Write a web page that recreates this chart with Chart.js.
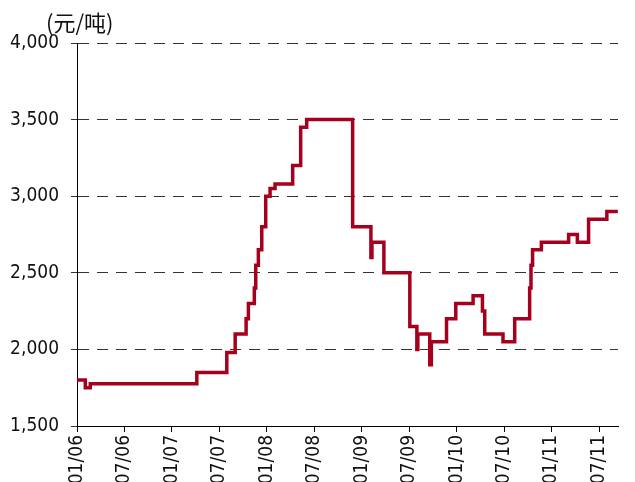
<!DOCTYPE html>
<html>
<head>
<meta charset="utf-8">
<script src="https://cdn.jsdelivr.net/npm/chart.js@4/dist/chart.umd.min.js"></script>
<style>
  html, body { margin: 0; padding: 0; background: #fff; }
  #wrap { width: 635px; height: 482px; }
</style>
</head>
<body>
<div id="wrap"><canvas id="priceChart"></canvas></div>
<script>
// mois écoulés depuis janvier 2006 (début de chaque palier)
const months = [0, 1.05, 1.68, 15.15, 18.94, 20.0, 21.38, 21.67, 22.42, 22.6, 22.93, 23.36, 23.86, 24.41, 25.04,
  27.27, 28.28, 29.04, 34.85, 37.16, 37.29, 38.8, 42.08, 42.97, 43.09, 44.6, 44.8, 46.72, 47.89,
  50.08, 51.26, 51.55, 53.86, 55.34, 57.23, 57.4, 57.6, 58.71, 62.16, 63.26, 64.68, 66.99, 68.38];
// prix (元/吨)
const prices = [1800, 1750, 1775, 1850, 1980, 2100, 2200, 2300, 2400, 2550, 2650, 2800, 3000, 3050, 3080,
  3200, 3450, 3500, 2800, 2600, 2700, 2500, 2150, 2000, 2100, 1900, 2050, 2200, 2300,
  2350, 2250, 2100, 2050, 2200, 2400, 2550, 2650, 2700, 2750, 2700, 2850, 2900, 2900];
// étiquettes de l'axe x, une tous les 6 mois
const tickLabels = ['01/06', '07/06', '01/07', '07/07', '01/08', '07/08', '01/09', '07/09', '01/10', '07/10', '01/11', '07/11'];
const unitLabel = '(元/吨)';

const points = months.map((m, i) => ({ x: m, y: prices[i] }));
const axisFont = { family: "'Liberation Sans Narrow', 'DejaVu Sans Condensed', sans-serif", size: 19 };

// titre d'unité en haut à gauche
const unitPlugin = {
    id: 'unitPlugin',
    afterDraw(chart) {
        const ctx = chart.ctx;
        ctx.save();
        ctx.font = "22px 'Noto Sans CJK SC'";
        ctx.fillStyle = '#111';
        ctx.textBaseline = 'alphabetic';
        ctx.fillText(unitLabel, 46, 31);
        ctx.restore();
    }
};

const ctx = document.getElementById('priceChart');
new Chart(ctx, {
    type: 'line',
    data: {
        datasets: [{
            data: points,
            borderColor: '#a6001f',
            borderWidth: 3.5,
            pointRadius: 0,
            stepped: true,
            fill: false
        }]
    },
    options: {
        responsive: true,
        maintainAspectRatio: false,
        animation: false,
        layout: { padding: { top: 43, right: 17, left: 0, bottom: 0 } },
        plugins: { legend: { display: false }, tooltip: { enabled: false } },
        scales: {
            x: {
                type: 'linear',
                min: 0,
                max: 68.4,
                afterBuildTicks: (scale) => {
                    // garder seulement les ticks semestriels
                    scale.ticks = tickLabels.map((_, i) => ({ value: i * 6 }));
                },
                afterFit: (scale) => { scale.height = 56; },
                grid: { drawOnChartArea: false, drawTicks: true, tickLength: 6, color: '#000' },
                border: { display: true, color: '#000', width: 1 },
                ticks: {
                    autoSkip: false,
                    maxRotation: 90,
                    minRotation: 90,
                    padding: 3,
                    color: '#111',
                    font: axisFont,
                    callback: (v) => tickLabels[Math.round(v / 6)] || ''
                }
            },
            y: {
                min: 1500,
                max: 4000,
                afterFit: (scale) => { scale.width = 77; },
                grid: { color: '#333', lineWidth: 1, tickLength: 6 },
                border: { display: true, color: '#000', width: 1, dash: [11, 8] },
                ticks: {
                    stepSize: 500,
                    padding: 12,
                    color: '#111',
                    font: axisFont,
                    callback: (v) => v.toLocaleString('en-US')
                }
            }
        }
    },
    plugins: [unitPlugin]
});
</script>
</body>
</html>
